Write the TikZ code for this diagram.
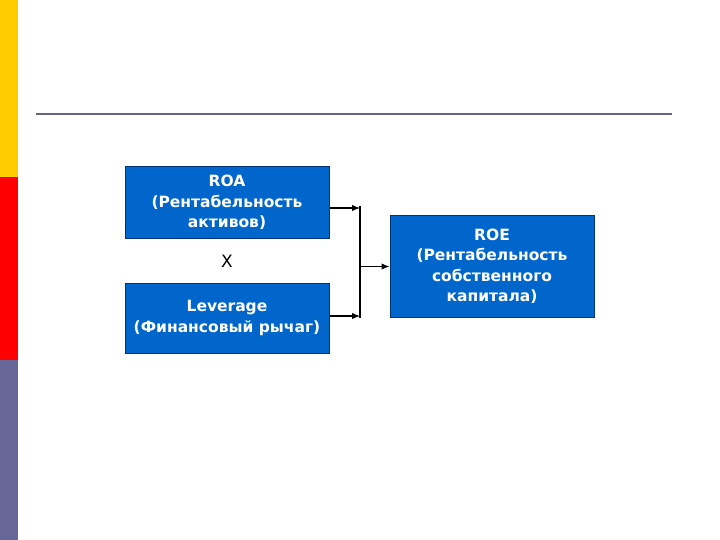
\documentclass[tikz,border=0pt]{standalone}
\usepackage{fontspec}
\setmainfont{DejaVu Sans}
\usetikzlibrary{arrows.meta}
\definecolor{boxblue}{RGB}{0,102,204}
\definecolor{boxedge}{RGB}{0,51,120}
\definecolor{stripeyellow}{RGB}{255,204,0}
\definecolor{stripered}{RGB}{255,0,0}
\definecolor{stripeslate}{RGB}{102,102,153}
\definecolor{rulegray}{RGB}{102,102,128}

\begin{document}
\begin{tikzpicture}[x=1pt, y=-1pt,
    ratiobox/.style={draw=boxedge, line width=1pt, fill=boxblue, text=white,
      minimum width=204pt, align=center, inner sep=0pt,
      font=\fontsize{15.5}{20.5}\selectfont\bfseries},
    feed/.style={-{Latex[length=8pt,width=6.5pt]}, line width=1.3pt}]
    \useasboundingbox (0,0) rectangle (720,540);
    % Left colour stripes
    \fill[stripeyellow] (0,0) rectangle (18,177);
    \fill[stripered] (0,177) rectangle (18,360);
    \fill[stripeslate] (0,360) rectangle (18,540);
    % Title rule
    \draw[rulegray, line width=2pt] (36,114) -- (672,114);
    % Ratio boxes
    \node[ratiobox, minimum height=71pt] (roa) at (227,202.5)
      {ROA\\(Рентабельность\\активов)};
    \node[ratiobox, minimum height=70pt] (lev) at (227,318)
      {Leverage\\(Финансовый рычаг)};
    \node[ratiobox, minimum height=101pt] (roe) at (492,266.5)
      {ROE\\(Рентабельность\\собственного\\капитала)};
    \node[font=\fontsize{17}{18}\selectfont] (times) at (227,261) {X};
    % Joining bracket
    \coordinate (jtop) at (360,206);
    \coordinate (jbot) at (360,318);
    \draw[line width=1.3pt] (jtop) -- (jbot);
    \draw[feed] (roa.east |- 0,208) -- (jtop |- 0,208);
    \draw[feed] (lev.east |- 0,316) -- (jbot |- 0,316);
    \draw[feed] (jtop |- roe.west) -- (roe.west);
\end{tikzpicture}
\end{document}
